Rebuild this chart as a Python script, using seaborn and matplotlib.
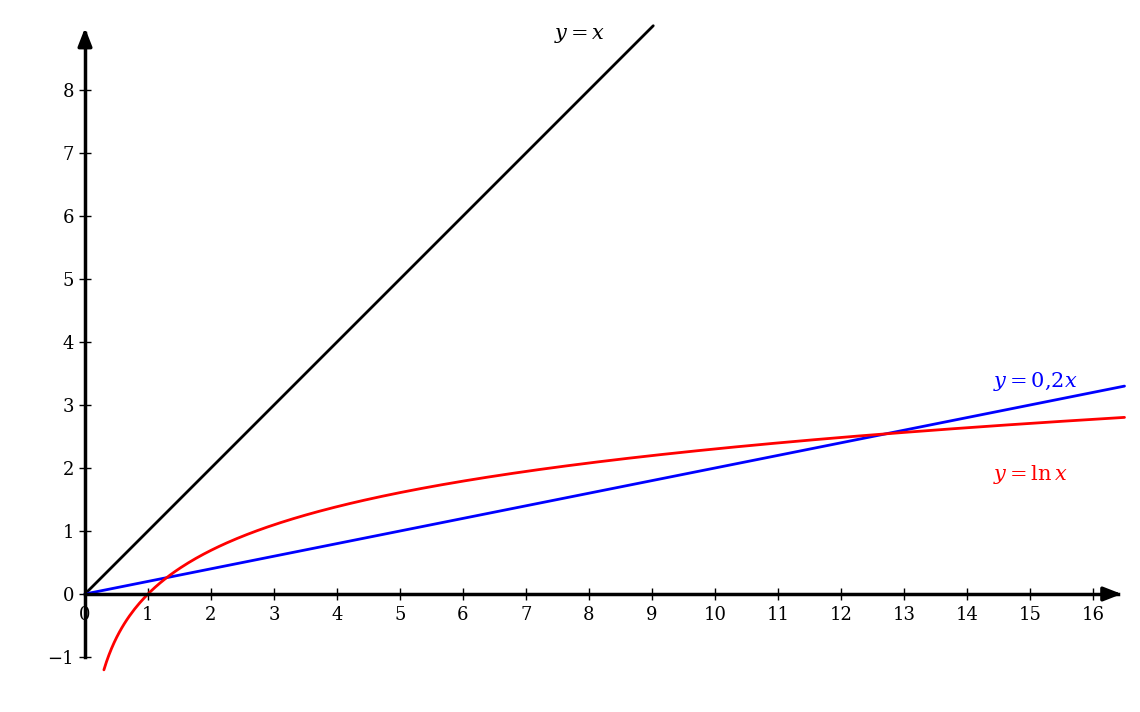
import numpy as np
import matplotlib
matplotlib.use("Agg")
import matplotlib.pyplot as plt
import seaborn as sns

sns.set_theme(style="white")
plt.rcParams['font.family'] = ['DejaVu Serif']
plt.rcParams['mathtext.fontset'] = 'dejavuserif'

x_ticks = list(range(0, 17))
y_ticks = list(range(-1, 9))
x_lin = np.array([0.0, 9.02])
x_blue = np.array([0.0, 16.5])
x_ln = np.linspace(0.3, 16.5, 400)
labels = [(r"$y = x$", 7.86, 8.86, "black"),
          (r"$y = 0{,}2x$", 15.08, 3.38, "blue"),
          (r"$y = \ln x$", 15.0, 1.90, "red")]

fig = plt.figure(figsize=(11.4, 7.12), dpi=100)
ax = fig.add_axes([0, 0, 1, 1])
ax.set_xlim(-85/63, 1055/63)
ax.set_ylim(-118/63, 594/63)

sns.lineplot(x=x_lin, y=x_lin, color="black", lw=2, ax=ax)
sns.lineplot(x=x_blue, y=0.2*x_blue, color="blue", lw=2, ax=ax)
sns.lineplot(x=x_ln, y=np.log(x_ln), color="red", lw=2, ax=ax, sort=False)

for s in ["top", "right"]:
    ax.spines[s].set_visible(False)
ax.spines["left"].set_position(("data", 0))
ax.spines["bottom"].set_position(("data", 0))
for s in ["left", "bottom"]:
    ax.spines[s].set_linewidth(2.5)
    ax.spines[s].set_color("black")
ax.spines["left"].set_bounds(-1, 8.9)
ax.spines["bottom"].set_bounds(0, 16.4)
ax.annotate("", xy=(16.5, 0), xytext=(16.2, 0),
            arrowprops=dict(arrowstyle="-|>,head_length=0.9,head_width=0.35", color="black", lw=2.5))
ax.annotate("", xy=(0, 9.03), xytext=(0, 8.7),
            arrowprops=dict(arrowstyle="-|>,head_length=0.9,head_width=0.35", color="black", lw=2.5))

ax.set_xticks(x_ticks)
ax.set_yticks(y_ticks)
ax.set_xticklabels([str(v) for v in x_ticks])
ax.set_yticklabels([str(v).replace("-", "\u2212") for v in y_ticks])
ax.tick_params(axis="both", direction="inout", length=9, width=1, colors="black",
               labelsize=13, bottom=True, left=True)
ax.tick_params(axis="x", pad=4)
ax.grid(False)

for t, xx, yy, c in labels:
    ax.text(xx, yy, t, color=c, fontsize=15, ha="center", va="center")

fig.savefig("out.png", dpi=100)
